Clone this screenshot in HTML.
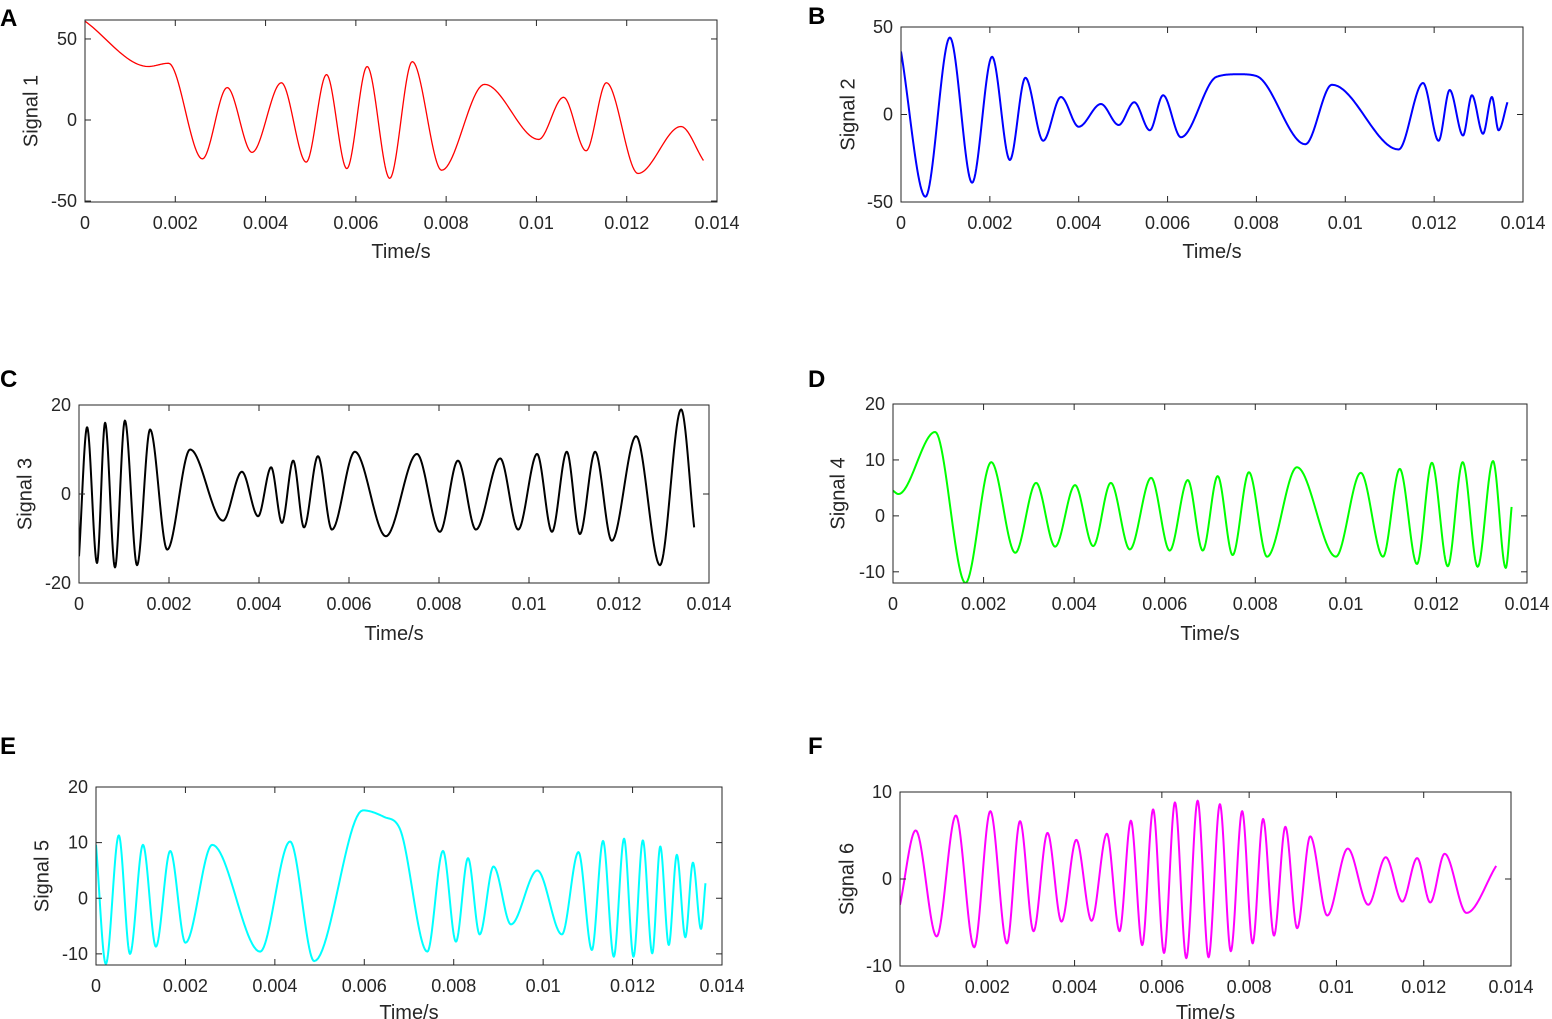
<!DOCTYPE html>
<html><head><meta charset="utf-8">
<style>
html,body{margin:0;padding:0;background:#fff;}
svg{display:block;font-family:"Liberation Sans",Arial,sans-serif;}
</style></head>
<body>
<svg id="fig" width="1552" height="1019" viewBox="0 0 1552 1019"></svg>
<script>
// ---- data (time in ms, amplitude) ----
const tA=[0,1.4,1.85,2.6,3.15,3.7,4.35,4.9,5.35,5.8,6.25,6.75,7.25,7.9,8.85,10.05,10.6,11.1,11.55,12.25,13.2,13.7];
const vA=[61,33,35,-24,20,-20,23,-26,28,-30,33,-36,36,-31,22,-12,14,-19,23,-33,-4,-25];
const tB=[0,0.55,1.1,1.6,2.05,2.45,2.8,3.2,3.6,4.0,4.5,4.9,5.25,5.6,5.9,6.3,7.1,7.6,8.0,9.1,9.7,11.2,11.75,12.1,12.35,12.65,12.85,13.1,13.3,13.45,13.65];
const vB=[36,-47,44,-39,33,-26,21,-15,10,-7,6,-6,7,-9,11,-13,21.5,23,22,-17,17,-20,18,-15,14,-12,11,-11,10,-9,7];
const tC=[0,0.18,0.4,0.58,0.8,1.02,1.29,1.58,1.96,2.47,3.2,3.62,3.98,4.27,4.51,4.76,5.0,5.31,5.62,6.13,6.82,7.51,8.02,8.42,8.82,9.36,9.76,10.18,10.51,10.84,11.13,11.47,11.84,12.38,12.91,13.38,13.67];
const vC=[-14,15,-15.5,16,-16.5,16.5,-16,14.5,-12.5,10,-6,5,-5,6,-6.5,7.5,-7.5,8.5,-8,9.5,-9.5,9,-8.5,7.5,-8,8,-8,9,-8.5,9.5,-9,9.5,-10.5,13,-16,19,-7.5];
const tD=[0,0.12,0.93,1.6,2.17,2.7,3.16,3.58,4.02,4.42,4.81,5.23,5.7,6.11,6.51,6.84,7.17,7.5,7.86,8.26,8.92,9.78,10.33,10.82,11.19,11.57,11.9,12.25,12.58,12.91,13.25,13.53,13.66];
const vD=[4.5,3.9,15,-12,9.6,-6.6,5.9,-5.5,5.5,-5.4,5.9,-6,6.8,-6.2,6.4,-6.2,7.1,-7,7.8,-7.3,8.7,-7.3,7.7,-7.3,8.4,-8.6,9.5,-9,9.6,-9.1,9.8,-9.3,1.6];
const tE=[0,0.22,0.51,0.76,1.05,1.34,1.66,2.0,2.6,3.67,4.34,4.88,5.97,6.45,6.8,7.41,7.76,8.05,8.32,8.58,8.89,9.28,9.87,10.42,10.79,11.09,11.34,11.58,11.81,12.02,12.23,12.44,12.62,12.81,12.99,13.18,13.35,13.53,13.63];
const vE=[9.6,-11.8,11.3,-10,9.6,-8.7,8.5,-8,9.6,-9.6,10.2,-11.3,15.8,14.6,12.4,-9.6,8.5,-7.8,7.2,-6.5,5.7,-4.7,5.0,-6.5,8.3,-9.3,10.3,-10.5,10.7,-10.5,10.4,-9.9,9.3,-8.4,7.8,-7.0,6.4,-5.5,2.7];
const tF=[0,0.36,0.84,1.28,1.70,2.07,2.45,2.75,3.06,3.38,3.70,4.04,4.39,4.74,5.03,5.29,5.55,5.80,6.05,6.30,6.56,6.82,7.07,7.33,7.58,7.84,8.08,8.32,8.57,8.83,9.10,9.40,9.79,10.26,10.73,11.13,11.51,11.85,12.15,12.48,12.98,13.66];
const vF=[-2.96,5.58,-6.6,7.3,-7.85,7.8,-7.4,6.65,-6.0,5.3,-4.9,4.5,-4.8,5.2,-6.0,6.7,-7.6,8.0,-8.5,8.8,-9.1,9.0,-9.0,8.6,-8.3,7.8,-7.4,6.9,-6.5,6.0,-5.65,4.9,-4.2,3.5,-2.96,2.5,-2.6,2.4,-2.7,2.9,-3.9,1.5];
const xTickLabels=["0","0.002","0.004","0.006","0.008","0.01","0.012","0.014"];
const xTickVals=[0,2,4,6,8,10,12,14];
const yTicksA=[-50,0,50], yTicksB=[-50,0,50], yTicksC=[-20,0,20], yTicksD=[-10,0,10,20], yTicksE=[-10,0,10,20], yTicksF=[-10,0,10];

const NS="http://www.w3.org/2000/svg";
const svg=document.getElementById('fig');
function mk(tag,attrs,parent){const e=document.createElementNS(NS,tag);for(const k in attrs)e.setAttribute(k,attrs[k]);(parent||svg).appendChild(e);return e;}

// monotone cubic (Fritsch-Carlson)
function mono(xs,ys,n){
  const N=xs.length,d=[],m=[];
  for(let i=0;i<N-1;i++)d.push((ys[i+1]-ys[i])/(xs[i+1]-xs[i]));
  m[0]=d[0];m[N-1]=d[N-2];
  for(let i=1;i<N-1;i++){m[i]=(d[i-1]*d[i]<=0)?0:(d[i-1]+d[i])/2;}
  for(let i=0;i<N-1;i++){if(d[i]===0){m[i]=0;m[i+1]=0;continue;}
    const a=m[i]/d[i],b=m[i+1]/d[i],s=a*a+b*b;if(s>9){const t=3/Math.sqrt(s);m[i]=t*a*d[i];m[i+1]=t*b*d[i];}}
  const out=[];
  for(let i=0;i<N-1;i++){const h=xs[i+1]-xs[i];
    for(let k=0;k<n;k++){const t=k/n,t2=t*t,t3=t2*t;
      const y=(2*t3-3*t2+1)*ys[i]+(t3-2*t2+t)*h*m[i]+(-2*t3+3*t2)*ys[i+1]+(t3-t2)*h*m[i+1];
      out.push([xs[i]+t*h,y]);}}
  out.push([xs[N-1],ys[N-1]]);return out;
}

const panels=[
 {id:'a',letter:'A',lx:0,ly:26,box:[85,20,717,202],ylim:[-50.6,61.7],yt:yTicksA,t:tA,v:vA,col:'#ff0000',lw:1.3,yl:'Signal 1',ylx:32,xlY:258},
 {id:'b',letter:'B',lx:808,ly:24,box:[901,27,1523,202],ylim:[-50,50],yt:yTicksB,t:tB,v:vB,col:'#0000ff',lw:2,yl:'Signal 2',ylx:849,xlY:258},
 {id:'c',letter:'C',lx:0,ly:387,box:[79,405,709,583],ylim:[-20,20],yt:yTicksC,t:tC,v:vC,col:'#000000',lw:2,yl:'Signal 3',ylx:26,xlY:640},
 {id:'d',letter:'D',lx:808,ly:387,box:[893,404,1527,583],ylim:[-12,20],yt:yTicksD,t:tD,v:vD,col:'#00ff00',lw:2,yl:'Signal 4',ylx:839,xlY:640},
 {id:'e',letter:'E',lx:0,ly:754,box:[96,787,722,965],ylim:[-12,20],yt:yTicksE,t:tE,v:vE,col:'#00ffff',lw:2,yl:'Signal 5',ylx:43,xlY:1019},
 {id:'f',letter:'F',lx:808,ly:754,box:[900,792,1511,966],ylim:[-10,10],yt:yTicksF,t:tF,v:vF,col:'#ff00ff',lw:2,yl:'Signal 6',ylx:848,xlY:1019}
];

panels.forEach(p=>{
  const [x0,y0,x1,y1]=p.box;
  const g=mk('g',{});
  
  
  const X=t=>x0+(t-0)/14*(x1-x0);
  const Y=v=>y1-(v-p.ylim[0])/(p.ylim[1]-p.ylim[0])*(y1-y0);
  const lt=mk('text',{x:p.lx,y:p.ly,'font-size':24,'font-weight':'bold',fill:'#000'},g);
  lt.textContent=p.letter;
  
  
  const cp=mk('clipPath',{id:'clip'+p.id},g);
  mk('rect',{x:x0,y:y0,width:x1-x0,height:y1-y0},cp);
  const pts=mono(p.t,p.v,24);
  const d=pts.map((q,i)=>(i?'L':'M')+X(q[0]).toFixed(2)+','+Y(q[1]).toFixed(2)).join('');
  const path=mk('path',{d:d,fill:'none',stroke:p.col,'stroke-width':p.lw,'stroke-linejoin':'round','clip-path':'url(#clip'+p.id+')'},g);
  
  
  const bx=mk('rect',{x:x0,y:y0,width:x1-x0,height:y1-y0,fill:'none',stroke:'#262626','stroke-width':1},g);
  
  
  xTickVals.forEach((tv,i)=>{
    const xx=X(tv);
    mk('line',{x1:xx,y1:y1,x2:xx,y2:y1-6,stroke:'#262626'},g);
    mk('line',{x1:xx,y1:y0,x2:xx,y2:y0+6,stroke:'#262626'},g);
    const tx=mk('text',{x:xx,y:y1+27,'font-size':18,'text-anchor':'middle',fill:'#262626'},g);
    tx.textContent=xTickLabels[i];
    
    
  });
  p.yt.forEach(v=>{
    const yy=Y(v);
    mk('line',{x1:x0,y1:yy,x2:x0+6,y2:yy,stroke:'#262626'},g);
    mk('line',{x1:x1,y1:yy,x2:x1-6,y2:yy,stroke:'#262626'},g);
    const tx=mk('text',{x:x0-8,y:yy+6,'font-size':18,'text-anchor':'end',fill:'#262626'},g);
    tx.textContent=String(v);
    
    
  });
  const xl=mk('text',{x:(x0+x1)/2,y:p.xlY,'font-size':20,'text-anchor':'middle',fill:'#262626'},g);
  xl.textContent='Time/s';
  
  
  const yc=(y0+y1)/2;
  const yl=mk('text',{x:p.ylx,y:yc,'font-size':20,'text-anchor':'middle',fill:'#262626',transform:'rotate(-90 '+p.ylx+' '+yc+')','dominant-baseline':'middle'},g);
  yl.textContent=p.yl;
  
  
});
</script>
</body></html>
